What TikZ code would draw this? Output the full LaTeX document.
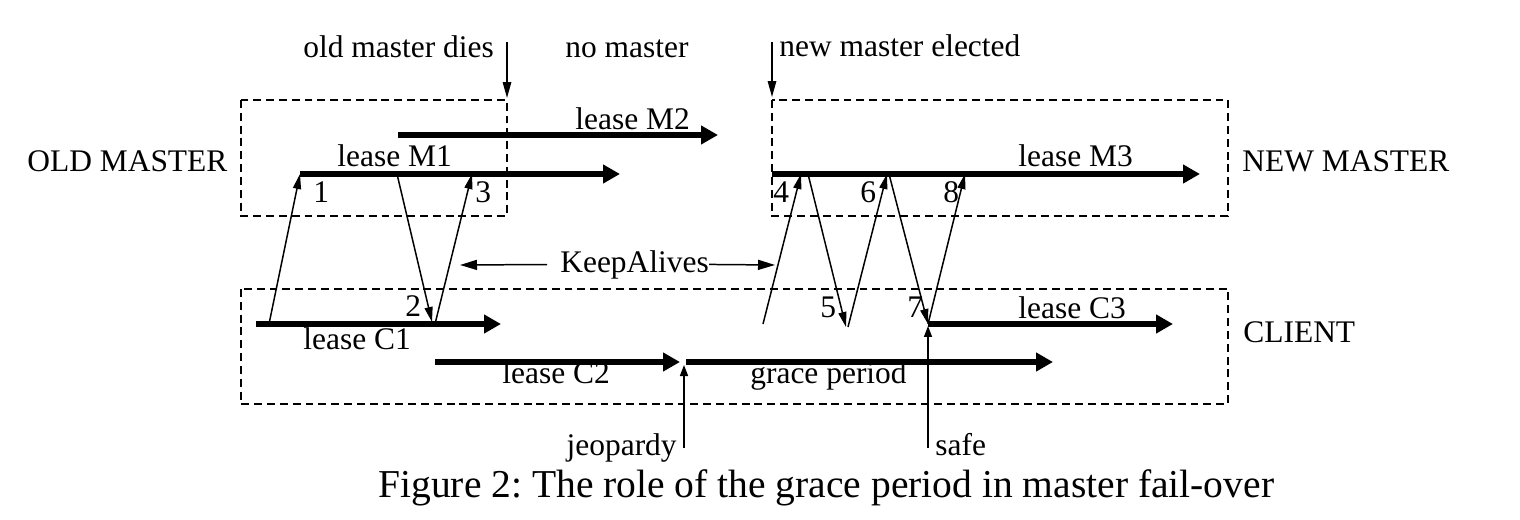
\documentclass[tikz,border=0pt]{standalone}
\usepackage{fontspec}
\setmainfont{Liberation Serif}
\usetikzlibrary{positioning,arrows.meta}
\frenchspacing

\tikzset{
  lease/.style={line width=3.4pt, -{Triangle[length=0.34cm,width=0.36cm]}},
  msg/.style={line width=0.85pt, -{Triangle[length=0.3cm,width=0.16cm]}},
  event/.style={line width=0.85pt, -{Triangle[length=0.32cm,width=0.17cm]}},
  guard/.style={line width=0.85pt, -{Triangle[length=0.22cm,width=0.16cm]}},
  keep/.style={line width=0.85pt, -{Triangle[length=0.34cm,width=0.2cm]}},
  region/.style={draw, line width=0.7pt, dash pattern=on 4.5pt off 2.8pt},
  lbl/.style={inner sep=0pt, font=\fontsize{17.9}{21}\selectfont},
  captext/.style={inner sep=0pt, font=\fontsize{22.5}{26}\selectfont},
}

\begin{document}
\begin{tikzpicture}[x=0.02cm,y=-0.02cm]
\useasboundingbox (0,0) rectangle (1520,520);

% Regions
\draw[region] (241,100) rectangle (507,216);
\draw[region] (772,100) rectangle (1228,216);
\draw[region] (241,289) rectangle (1228,404);
\node[lbl, anchor=base west] (oldm) at (27,172) {OLD MASTER};
\node[lbl, anchor=base west] (newm) at (1242,172) {NEW MASTER};
\node[lbl, anchor=base west] (cli) at (1243,342) {CLIENT};

% Lease ends
\coordinate (m1s) at (300,174); \coordinate (m1e) at (620,174);
\coordinate (m2s) at (398,135); \coordinate (m2e) at (718,135);
\coordinate (m3s) at (772,174); \coordinate (m3e) at (1200,174);
\coordinate (c1s) at (256,324); \coordinate (c1e) at (501,324);
\coordinate (c2s) at (435,362); \coordinate (c2e) at (680,362);
\coordinate (gps) at (686,362); \coordinate (gpe) at (1053,362);
\coordinate (c3s) at (928,324); \coordinate (c3e) at (1173,324);

% Leases
\draw[lease] (m1s) -- (m1e);
\draw[lease] (m2s) -- (m2e);
\draw[lease] (m3s) -- (m3e);
\draw[lease] (c1s) -- (c1e);
\draw[lease] (c2s) -- (c2e);
\draw[lease] (gps) -- (gpe);
\draw[lease] (c3s) -- (c3e);
\node[lbl, anchor=base west] (lm1) at (337,167) {lease M1};
\node[lbl, anchor=base west] (lm2) at (575,130) {lease M2};
\node[lbl, anchor=base west] (lm3) at (1018,167) {lease M3};
\node[lbl, anchor=base west] (lc1) at (303,349) {lease C1};
\node[lbl, anchor=base west] (lc2) at (502,383) {lease C2};
\node[lbl, anchor=base west] (lgp) at (750,383) {grace period};
\node[lbl, anchor=base west] (lc3) at (1018,318) {lease C3};

% KeepAlives
\coordinate (p1a) at (269,324); \coordinate (p2a) at (397,174);
\coordinate (p2) at (432,322); \coordinate (p3a) at (435,324);
\coordinate (p3) at (472,174);
\coordinate (p4a) at (763,324); \coordinate (p4) at (801,174);
\coordinate (p5a) at (808,174); \coordinate (p5) at (846,327);
\coordinate (p6a) at (848,327); \coordinate (p6) at (887,174);
\coordinate (p7a) at (889,174);
\coordinate (p8) at (965,174);
\draw[msg] (p1a) -- (m1s);
\draw[msg] (p2a) -- (p2);
\draw[msg] (p3a) -- (p3);
\draw[msg] (p4a) -- (p4);
\draw[msg] (p5a) -- (p5);
\draw[msg] (p6a) -- (p6);
\draw[msg] (p7a) -- (c3s);
\draw[msg] (c3s) -- (p8);
\node[lbl, anchor=base west] (n1) at (313,203) {1};
\node[lbl, anchor=base west] (n2) at (405,316) {2};
\node[lbl, anchor=base west] (n3) at (475,203) {3};
\node[lbl, anchor=base west] (n4) at (773,203) {4};
\node[lbl, anchor=base west] (n5) at (820,317) {5};
\node[lbl, anchor=base west] (n6) at (860,203) {6};
\node[lbl, anchor=base west] (n7) at (907,317) {7};
\node[lbl, anchor=base west] (n8) at (943,203) {8};

\node[lbl, anchor=base west] (ka) at (560,272) {KeepAlives};
\coordinate (kal) at (460,265);
\coordinate (kar) at (775,265);
\draw[keep, shorten <=0.26cm] (ka.west) -- (kal);
\draw[keep] (ka.east) -- (kar);

% Events
\node[lbl, anchor=base west] (dies) at (303,58) {old master dies};
\node[lbl, anchor=base west] (nom) at (565,58) {no master};
\node[lbl, anchor=base west] (elect) at (779,57) {new master elected};
\coordinate (diestop) at (507,42); \coordinate (diesbot) at (507,98);
\coordinate (electtop) at (772,42); \coordinate (electbot) at (772,97);
\draw[event] (diestop) -- (diesbot);
\draw[event] (electtop) -- (electbot);

\node[lbl, anchor=base east] (jeo) at (677,455) {jeopardy};
\node[lbl, anchor=base west] (safe) at (935,455) {safe};
\coordinate (jeobot) at (684,448); \coordinate (jeotop) at (684,365);
\coordinate (safebot) at (928,448); \coordinate (safetop) at (928,326);
\draw[guard] (jeobot) -- (jeotop);
\draw[guard] (safebot) -- (safetop);

% Caption
\node[captext, anchor=base west] (caption) at (378,497) {Figure 2: The role of the grace period in master fail-over};
\end{tikzpicture}
\end{document}
